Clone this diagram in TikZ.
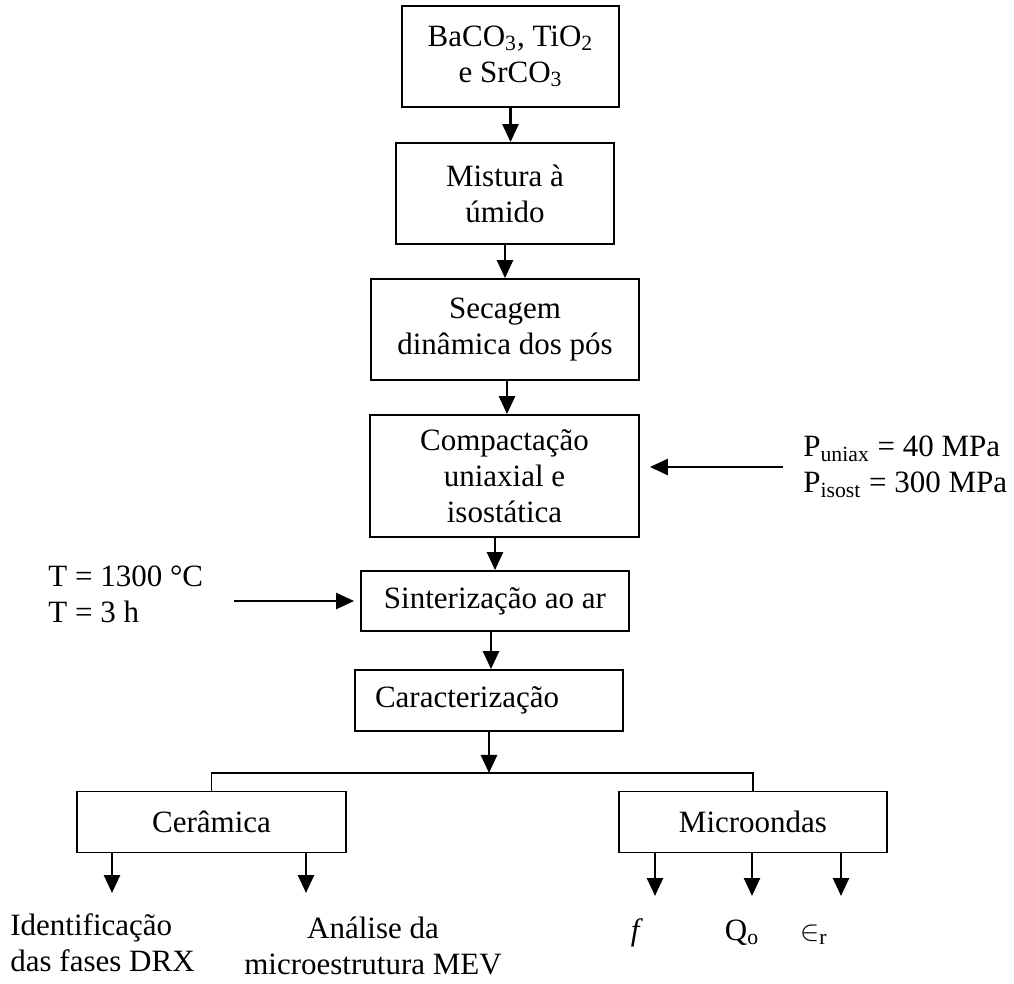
\documentclass[tikz,border=0pt]{standalone}
\usepackage{fontspec}
\setmainfont{Liberation Serif}
\usetikzlibrary{arrows.meta,calc}
\tikzset{
  every box/.style={
    draw=black,line width=0.9pt,inner sep=0pt,align=center,
    font=\fontsize{15.5pt}{18pt}\selectfont,
  },
  label text/.style={inner sep=0pt,font=\fontsize{15.5pt}{18pt}\selectfont},
  flow/.style={line width=1.3pt,-{Triangle[width=8pt,length=9pt]}},
}

\begin{document}
\begin{tikzpicture}[x=0.5pt,y=-0.5pt]
    \useasboundingbox (0,0) rectangle (1014,984);
    % boxes
    \node[every box,minimum width=108.5pt,minimum height=50.5pt] (raw) at (510.5,56.5)
        {BaCO\textsubscript{3}, TiO\textsubscript{2}\\e SrCO\textsubscript{3}};
    \node[every box,minimum width=109pt,minimum height=50.5pt] (mix) at (505,193.5)
        {Mistura à\\úmido};
    \node[every box,minimum width=134pt,minimum height=50.5pt] (dry) at (505,329.5)
        {Secagem\\dinâmica dos pós};
    \node[every box,minimum width=134.5pt,minimum height=61pt] (press) at (504.5,476)
        {Compactação\\uniaxial e\\isostática};
    \node[every box,minimum width=134pt,minimum height=30pt] (sint) at (495,601)
        {Sinterização ao ar};
    \node[every box,text width=114pt,inner xsep=10pt,align=left,minimum height=30.5pt] (char) at (489,700.5)
        {Caracterização};
    \node[every box,minimum width=134.5pt,minimum height=30.5pt] (cer) at (211.5,822)
        {Cerâmica};
    \node[every box,minimum width=134pt,minimum height=30.5pt] (mic) at (753,822)
        {Microondas};
    % side labels
    \node[label text,anchor=west,align=left] (ptext) at (803,467)
        {P\textsubscript{uniax} = 40 MPa\\P\textsubscript{isost} = 300 MPa};
    \node[label text,anchor=west,align=left] (ttext) at (48,594.5)
        {T = 1300 °C\\T = 3 h};
    % results
    \node[label text,anchor=west,align=left] (drx) at (10,943)
        {Identificação\\das fases DRX};
    \node[label text,align=center] (mev) at (373,946)
        {Análise da\\microestrutura MEV};
    \node[label text,anchor=base] (freq) at (637,940) {\textit{f}};
    \node[label text,anchor=base] (qfac) at (742,940) {Q\textsubscript{o}};
    \node[label text,anchor=base] (perm) at (814,940) {$\in$\textsubscript{r}};
    % free ends
    \coordinate (fork) at (489,773);
    \coordinate (c1) at (112,893);
    \coordinate (c2) at (306,893);
    \coordinate (m1) at (655,896);
    \coordinate (m2) at (752,896);
    \coordinate (m3) at (841,896);
    % diagram
    \draw[flow] (raw.south) -- (raw.south |- mix.north);
    \draw[flow] (mix.south) -- (mix.south |- dry.north);
    \draw[flow] ([xshift=1pt]dry.south) -- ([xshift=1pt]dry.south |- press.north);
    \draw[flow] (sint.north |- press.south) -- (sint.north);
    \draw[flow] ([xshift=1pt]char.north |- sint.south) -- ([xshift=1pt]char.north);
    \draw[flow] (char.south) -- (fork);
    \draw[line width=0.9pt] (cer.north) |- (fork) -| (mic.north);
    \draw[flow,shorten <=10pt,shorten >=5pt] (ptext.west) -- (ptext.west -| press.east);
    \draw[flow,shorten <=15pt,shorten >=3pt] (sint.west -| ttext.east) -- (sint.west);
    \draw[flow] (c1 |- cer.south) -- (c1);
    \draw[flow] (c2 |- cer.south) -- (c2);
    \draw[flow] (m1 |- mic.south) -- (m1);
    \draw[flow] (m2 |- mic.south) -- (m2);
    \draw[flow] (m3 |- mic.south) -- (m3);
\end{tikzpicture}
\end{document}
